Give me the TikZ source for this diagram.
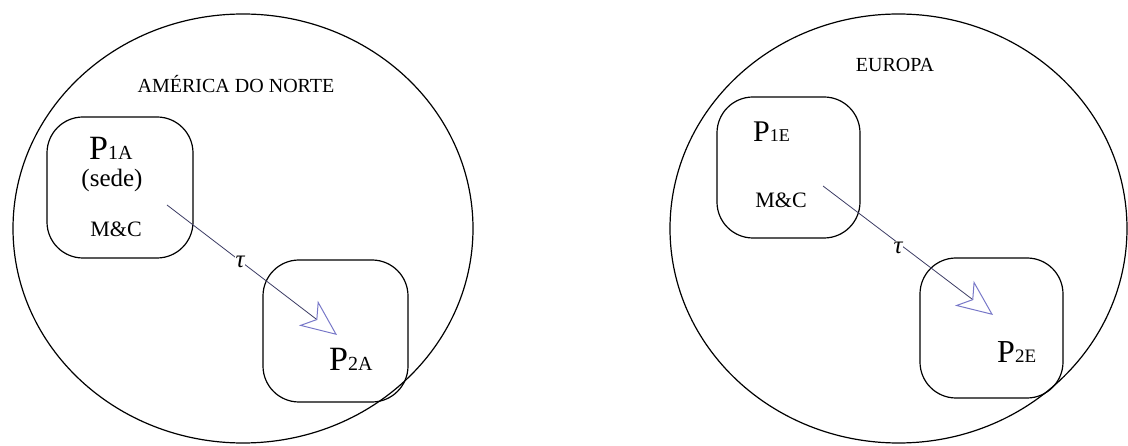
\documentclass[tikz,border=0pt]{standalone}
\usepackage{fontspec}
\setmainfont{Liberation Serif}
\usetikzlibrary{arrows.meta}
\definecolor{arrline}{RGB}{60,60,100}
\definecolor{arrhead}{RGB}{120,120,200}
\tikzset{
  region/.style={draw=black, line width=1.2pt},
  unitbox/.style={draw=black, line width=1.2pt, rounded corners=36pt, inner sep=0pt},
  lbl/.style={inner sep=0pt, anchor=base},
  flow/.style={draw=arrline, line width=0.8pt,
    -{Stealth[open, length=36pt, width=31pt, inset=10pt, color=arrhead, line width=1pt]}},
  taulbl/.style={fill=white, inner sep=1pt, font=\fontsize{25}{25}\selectfont\itshape}
}
\begin{document}
\begin{tikzpicture}[x=1pt, y=-1pt]
\useasboundingbox (0,0) rectangle (1128,446);
% regions
\draw[region] (243,228.5) ellipse [x radius=230, y radius=214.5];
\draw[region] (898.5,228.5) ellipse [x radius=228.5, y radius=214.5];
\node[lbl, font=\fontsize{20}{20}\selectfont] (na) at (236,93) {AMÉRICA DO NORTE};
\node[lbl, font=\fontsize{20}{20}\selectfont] (eu) at (895,72) {EUROPA};
% boxes
\draw[unitbox] (47,117) rectangle (193,258);
\draw[unitbox] (263,260) rectangle (408,402);
\draw[unitbox] (717,97) rectangle (860,238);
\draw[unitbox] (920,258) rectangle (1063,398);
% texts left
\node[lbl, anchor=base west, font=\fontsize{34}{34}\selectfont] (p1a) at (89,160) {P{\fontsize{20}{20}\selectfont 1A}};
\node[lbl, font=\fontsize{25}{25}\selectfont] (sede) at (112,187) {(sede)};
\node[lbl, font=\fontsize{22}{22}\selectfont] (mca) at (116,237) {M\&C};
\node[lbl, anchor=base west, font=\fontsize{34}{34}\selectfont] (p2a) at (329,371) {P{\fontsize{20}{20}\selectfont 2A}};
% texts right
\node[lbl, anchor=base west, font=\fontsize{30}{30}\selectfont] (p1e) at (753,142) {P{\fontsize{18}{18}\selectfont 1E}};
\node[lbl, font=\fontsize{22}{22}\selectfont] (mce) at (781,208) {M\&C};
\node[lbl, anchor=base west, font=\fontsize{32}{32}\selectfont] (p2e) at (997,363) {P{\fontsize{19}{19}\selectfont 2E}};
% arrows
\coordinate (sa) at (167,205);
\coordinate (ta) at (337,335);
\coordinate (se) at (823,186);
\coordinate (te) at (993,315);
\draw[flow] (sa) -- (ta);
\draw[flow] (se) -- (te);
\node[taulbl] (taua) at (240,262) {τ};
\node[taulbl] (taue) at (898,248) {τ};
\end{tikzpicture}
\end{document}
